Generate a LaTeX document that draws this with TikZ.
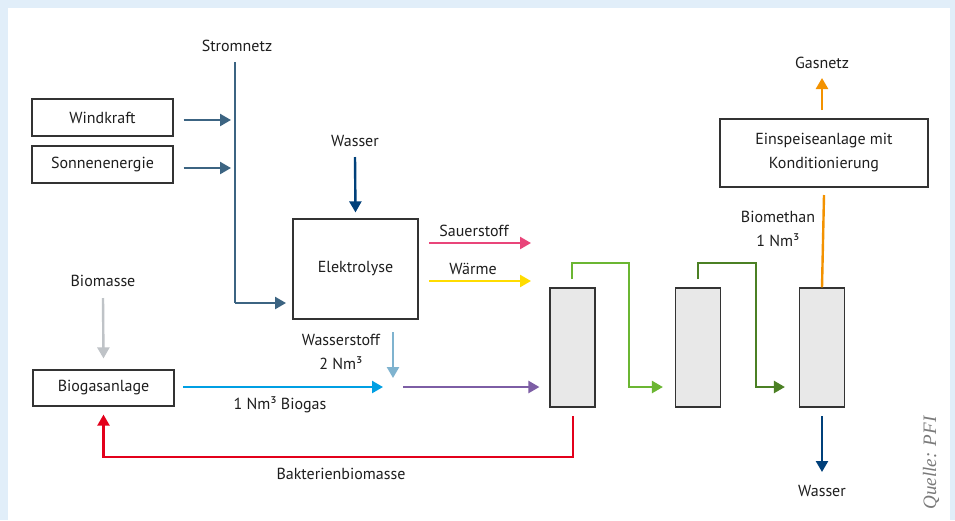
\documentclass[tikz,border=0pt]{standalone}
\usepackage{fontspec}
\setmainfont{PT Sans}
\newfontfamily\quellefont{Liberation Serif}
\usetikzlibrary{arrows.meta}

\definecolor{bgblue}{HTML}{E1EEF9}
\definecolor{txtgray}{HTML}{1E1E1E}
\definecolor{boxline}{HTML}{333333}
\definecolor{colfill}{HTML}{E8E8E8}
\definecolor{steel}{HTML}{3C6482}
\definecolor{navy}{HTML}{00407A}
\definecolor{pinkline}{HTML}{E9457A}
\definecolor{yellowline}{HTML}{FFDC00}
\definecolor{hydrogen}{HTML}{7FB3CF}
\definecolor{biomassgray}{HTML}{BFC3C7}
\definecolor{cyanline}{HTML}{009FE3}
\definecolor{purpleline}{HTML}{7D5EA5}
\definecolor{redline}{HTML}{E3001B}
\definecolor{lgreen}{HTML}{6BB632}
\definecolor{dgreen}{HTML}{4B8024}
\definecolor{orangeline}{HTML}{F39200}
\definecolor{quellegray}{HTML}{7A7A7A}

\begin{document}
\begin{tikzpicture}[x=1pt,y=-1pt,
  lbl/.style={font=\fontsize{16}{19}\selectfont, text=txtgray, inner sep=0pt},
  box/.style={draw=boxline, line width=1.2pt, fill=white, inner sep=0pt,
    font=\fontsize{16}{19}\selectfont, text=txtgray, align=center},
  column/.style={draw=boxline, line width=1.2pt, fill=colfill, inner sep=0pt,
    minimum width=45pt, minimum height=119pt},
  flow/.style={line width=2.4pt, -{Triangle[length=11pt,width=12pt]}},
  pipe/.style={line width=2.4pt}
]
% frame
\fill[bgblue] (0,0) rectangle (955,520);
\fill[white] (8,8) rectangle (950,520);
\useasboundingbox (0,0) rectangle (955,520);

% boxes
\node[box, minimum width=141pt, minimum height=37pt] (wind) at (102.5,117.5) {Windkraft};
\node[box, minimum width=141pt, minimum height=37pt] (sonne) at (102.5,164.5) {Sonnenenergie};
\node[box, minimum width=125pt, minimum height=100pt] (elek) at (355.5,269) {Elektrolyse};
\node[box, minimum width=141pt, minimum height=36pt] (biogas) at (103.5,388) {Biogasanlage};
\node[box, minimum width=208pt, minimum height=68pt] (einsp) at (824,153) {Einspeiseanlage mit\\[5pt]Konditionierung};

% reactor columns
\node[column] (colA) at (572.5,347.5) {};
\node[column] (colB) at (698,347.5) {};
\node[column] (colC) at (822,347.5) {};

% labels
\node[lbl] (lstrom) at (237,46) {Stromnetz};
\node[lbl] (lwasserin) at (355,141) {Wasser};
\node[lbl] (lsauer) at (474,231) {Sauerstoff};
\node[lbl] (lwaerme) at (473,269) {Wärme};
\node[lbl, align=center] (lwasserstoff) at (341,352) {Wasserstoff\\[5pt]2 Nm³};
\node[lbl] (lbiomasse) at (103,281) {Biomasse};
\node[lbl] (lbiogas) at (280,405) {1 Nm³ Biogas};
\node[lbl] (lbakt) at (341,474) {Bakterienbiomasse};
\node[lbl, align=center] (lbiomethan) at (778,229) {Biomethan\\[5pt]1 Nm³};
\node[lbl] (lgasnetz) at (822,63) {Gasnetz};
\node[lbl] (lwasserout) at (822,491) {Wasser};
\node[rotate=90, font=\quellefont\itshape\fontsize{19}{22}\selectfont, text=quellegray, inner sep=0pt] (quelle) at (931,463) {Quelle: PFI};

% free ends of connectors
\coordinate (busTop) at (235,62);
\coordinate (busBot) at (235,303);
\coordinate (windEnd) at (231,120);
\coordinate (sonneEnd) at (231,168);
\coordinate (elekIn) at (286,303);
\coordinate (wasserA) at (355,157);
\coordinate (sauerA) at (429,243);
\coordinate (sauerB) at (531,243);
\coordinate (waermeA) at (429,281);
\coordinate (waermeB) at (531,281);
\coordinate (h2A) at (393,332);
\coordinate (h2B) at (393,378);
\coordinate (bioA) at (103,298);
\coordinate (gasA) at (183,387);
\coordinate (mixPt) at (383,387);
\coordinate (mixOut) at (403,387);
\coordinate (redTop) at (573,416);
\coordinate (redCorner) at (573,457);
\coordinate (greenA) at (572,279);
\coordinate (greenB) at (698,279);
\coordinate (orangeA) at (822,110);
\coordinate (orangeB) at (822,78);
\coordinate (wasserOutA) at (822,416);
\coordinate (wasserOutB) at (822,472);

% power grid
\draw[pipe, steel] (busTop) -- (busBot);
\draw[flow, steel] ([xshift=10pt]wind.east |- windEnd) -- (windEnd);
\draw[flow, steel] ([xshift=10pt]sonne.east |- sonneEnd) -- (sonneEnd);
\draw[flow, steel] (busBot) -- (elekIn);

% electrolysis
\draw[flow, navy] (wasserA) -- ([yshift=6pt]elek.north);
\draw[flow, pinkline] (sauerA) -- (sauerB);
\draw[flow, yellowline] (waermeA) -- (waermeB);
\draw[flow, hydrogen] (h2A) -- (h2B);

% biogas
\draw[flow, biomassgray] (bioA) -- ([yshift=11pt]biogas.north);
\draw[flow, cyanline] (gasA) -- (mixPt);
\draw[flow, purpleline] (mixOut) -- ([xshift=-10pt]colA.west |- mixOut);
\draw[flow, redline, line width=2.2pt] (redTop) -- (redCorner) -| ([yshift=-8pt]biogas.south);

% reactor chain
\draw[flow, lgreen] (greenA) |- (629,263) |- ([xshift=-12pt]colB.west |- mixOut);
\draw[flow, dgreen] (greenB) |- (756,263) |- ([xshift=-14pt]colC.west |- mixOut);
\draw[pipe, orangeline] (colC.north) -- (einsp.south |- 0,195);
\draw[flow, orangeline] (orangeA) -- (orangeB);
\draw[flow, navy] (wasserOutA) -- (wasserOutB);
\end{tikzpicture}
\end{document}
